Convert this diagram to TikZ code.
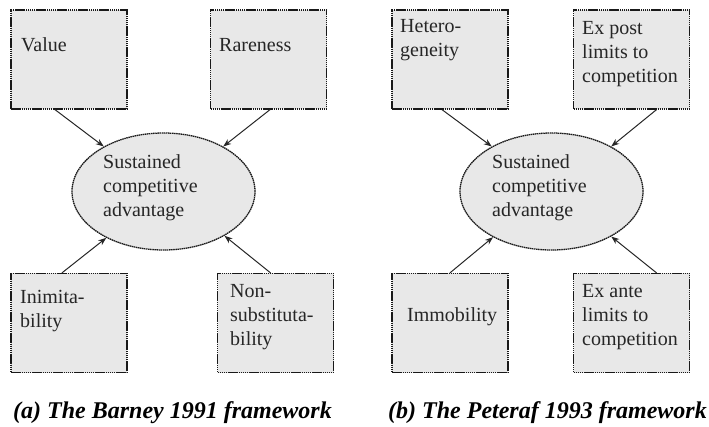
\documentclass[tikz,border=0pt]{standalone}
\usepackage{fontspec}
\setmainfont{Liberation Serif}
\newfontfamily\tmsfont{Liberation Serif}
\usetikzlibrary{shapes.geometric,arrows.meta,calc}
\begin{document}
\begin{tikzpicture}[x=1pt,y=-1pt,
  box/.style={draw=black!90, fill=black!9, line width=1.3pt, dash pattern=on 1.5pt off 0.6pt,
    minimum width=116pt, minimum height=99pt, inner sep=0pt},
  oval/.style={ellipse, draw=black!90, fill=black!9, line width=1.3pt, dash pattern=on 1.5pt off 0.6pt,
    minimum width=183pt, minimum height=117pt, inner sep=0pt},
  lbl/.style={anchor=base west, font=\tmsfont\fontsize{20}{24}\selectfont, inner sep=0pt, align=left, text=black!85},
  arr/.style={-{Stealth[length=8pt,width=6pt]}, line width=1pt, draw=black!85},
  captext/.style={font=\tmsfont\fontsize{24}{28}\selectfont\bfseries\itshape, inner sep=0pt, anchor=base}]
\useasboundingbox (0,0) rectangle (709,427);
% ---- panel (a)
\node[box] (va) at (69,59.5) {};
\node[box] (ra) at (268.5,59.5) {};
\node[box] (ia) at (69,323) {};
\node[box] (na) at (275.5,323) {};
\node[oval] (ea) at (163.5,191.5) {};
\node[lbl] (tva) at (21,52) {Value};
\node[lbl] (tra) at (219,52) {Rareness};
\node[lbl] (tia) at (20,327) {Inimita-\\bility};
\node[lbl] (tna) at (230,345) {Non-\\substituta-\\bility};
\node[lbl] (tea) at (103,217) {Sustained\\competitive\\advantage};
\coordinate (va1) at ($(va.south)+(-14,0)$);
\coordinate (ra1) at ($(ra.south)+(1.5,0)$);
\coordinate (ia1) at ($(ia.north)+(-7,0)$);
\coordinate (na1) at ($(na.north)+(-5,0)$);
\draw[arr] (va1) -- (ea.143);
\draw[arr] (ra1) -- (ea.37);
\draw[arr] (ia1) -- (ea.219);
\draw[arr] (na1) -- (ea.324);
\node[captext] (capa) at (172.5,418) {(a) The Barney 1991 framework};
% ---- panel (b)
\node[box] (hb) at (450,59.5) {};
\node[box] (pb) at (631.5,59.5) {};
\node[box] (mb) at (450,323) {};
\node[box] (ab) at (631.5,323) {};
\node[oval] (eb) at (551.5,191.5) {};
\node[lbl] (thb) at (400,57) {Hetero-\\geneity};
\node[lbl] (tpb) at (582,83) {Ex post\\limits to\\competition};
\node[lbl] (tmb) at (407,322) {Immobility};
\node[lbl] (tab) at (582,345) {Ex ante\\limits to\\competition};
\node[lbl] (teb) at (492,217) {Sustained\\competitive\\advantage};
\coordinate (hb1) at ($(hb.south)+(-8,0)$);
\coordinate (pb1) at ($(pb.south)+(25,0)$);
\coordinate (mb1) at ($(mb.north)+(0,0)$);
\coordinate (ab1) at ($(ab.north)+(25,0)$);
\draw[arr] (hb1) -- (eb.143);
\draw[arr] (pb1) -- (eb.37);
\draw[arr] (mb1) -- (eb.218);
\draw[arr] (ab1) -- (eb.323);
\node[captext] (capb) at (547.5,418) {(b) The Peteraf 1993 framework};
\end{tikzpicture}
\end{document}
